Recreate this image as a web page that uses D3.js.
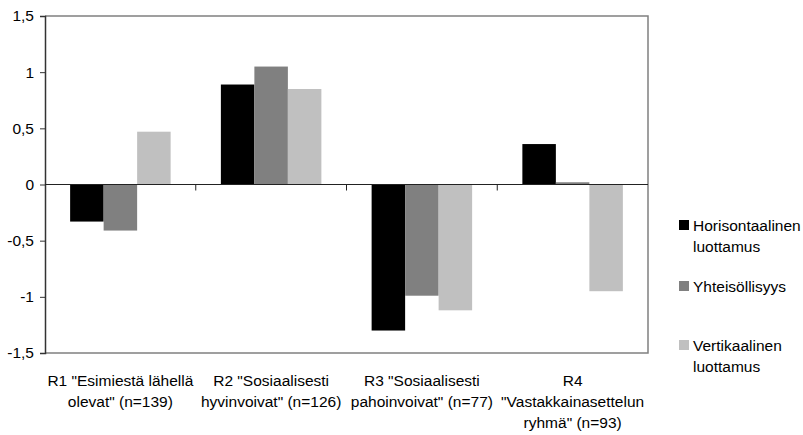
<!DOCTYPE html>
<html>
<head>
<meta charset="utf-8">
<script src="https://cdn.jsdelivr.net/npm/d3@7"></script>
<style>
  html, body { margin: 0; padding: 0; background: #fff; }
  svg text { font-family: "Liberation Sans", Arial, sans-serif; font-size: 15.5px; fill: #000; }
</style>
</head>
<body>
<svg id="chart" width="803" height="435"></svg>
<script>
// Group labels (one array of lines per group)
const categories = [
  ["R1 \"Esimiestä lähellä", "olevat\" (n=139)"],
  ["R2 \"Sosiaalisesti", "hyvinvoivat\" (n=126)"],
  ["R3 \"Sosiaalisesti", "pahoinvoivat\" (n=77)"],
  ["R4", "\"Vastakkainasettelun", "ryhmä\" (n=93)"]
];
const seriesNames = [
  ["Horisontaalinen", "luottamus"],
  ["Yhteisöllisyys"],
  ["Vertikaalinen", "luottamus"]
];
const horisontaalinen = [-0.33, 0.89, -1.30, 0.36];
const yhteisollisyys  = [-0.41, 1.05, -0.99, 0.02];
const vertikaalinen   = [0.47, 0.85, -1.12, -0.95];
const yTicks = [-1.5, -1, -0.5, 0, 0.5, 1, 1.5];

const series = [horisontaalinen, yhteisollisyys, vertikaalinen];
const colors = ["#000000", "#808080", "#c0c0c0"];

const svg = d3.select("#chart");
const m = { left: 45, top: 16, right: 648, bottom: 353 };

const catIdx = categories.map((d, i) => i);
const x0 = d3.scaleBand().domain(catIdx).range([m.left, m.right]).paddingInner(0.3333).paddingOuter(0.1667);
const x1 = d3.scaleBand().domain([0, 1, 2]).range([0, x0.bandwidth()]);
const xGroup = d3.scaleBand().domain(catIdx).range([m.left, m.right]);
const y = d3.scaleLinear().domain([-1.5, 1.5]).range([m.bottom, m.top]);

const fmt = v => String(v).replace(".", ",");

// Frame: top, right and bottom in grey
svg.append("path")
  .attr("d", `M${m.left},${m.top}H${m.right}V${m.bottom}H${m.left}`)
  .attr("fill", "none").attr("stroke", "#808080").attr("stroke-width", 1.5);

// Bars
const groups = svg.append("g").selectAll("g").data(catIdx).join("g")
  .attr("transform", i => `translate(${x0(i)},0)`);
groups.selectAll("rect")
  .data(i => series.map((s, k) => ({ k, v: s[i] })))
  .join("rect")
  .attr("x", d => x1(d.k))
  .attr("width", x1.bandwidth())
  .attr("y", d => y(Math.max(0, d.v)))
  .attr("height", d => Math.abs(y(d.v) - y(0)))
  .attr("fill", d => colors[d.k]);

// Y axis
const yAxis = svg.append("g").attr("transform", `translate(${m.left},0)`)
  .call(d3.axisLeft(y).tickValues(yTicks).tickFormat(fmt).tickSize(5).tickPadding(6));
yAxis.select(".domain").attr("stroke", "#333").attr("stroke-width", 1.5);
yAxis.selectAll(".tick line").attr("stroke", "#333");

// Zero line with category separator ticks
svg.append("line")
  .attr("x1", m.left).attr("x2", m.right)
  .attr("y1", y(0)).attr("y2", y(0))
  .attr("stroke", "#222").attr("stroke-width", 1.2);
svg.append("g").selectAll("line").data(catIdx.slice(1)).join("line")
  .attr("x1", i => xGroup(i)).attr("x2", i => xGroup(i))
  .attr("y1", y(0)).attr("y2", y(0) + 6)
  .attr("stroke", "#222").attr("stroke-width", 1);

// Category labels
svg.append("g").selectAll("text").data(catIdx).join("text")
  .attr("text-anchor", "middle")
  .attr("x", i => xGroup(i) + xGroup.bandwidth() / 2)
  .attr("y", 386)
  .each(function (i) {
    d3.select(this).selectAll("tspan").data(categories[i]).join("tspan")
      .attr("x", xGroup(i) + xGroup.bandwidth() / 2)
      .attr("dy", (d, j) => j === 0 ? 0 : 21)
      .text(d => d);
  });

// Legend
const legendY = [225, 286, 345];
const legend = svg.append("g").selectAll("g").data(seriesNames).join("g")
  .attr("transform", (d, k) => `translate(679,${legendY[k]})`);
legend.append("rect").attr("x", 0).attr("y", -5).attr("width", 10).attr("height", 10)
  .attr("fill", (d, k) => colors[k]);
legend.append("text").attr("x", 14).attr("y", 5.5)
  .each(function (d) {
    d3.select(this).selectAll("tspan").data(d).join("tspan")
      .attr("x", 14).attr("dy", (t, j) => j === 0 ? 0 : 21.5).text(t => t);
  });
</script>
</body>
</html>
